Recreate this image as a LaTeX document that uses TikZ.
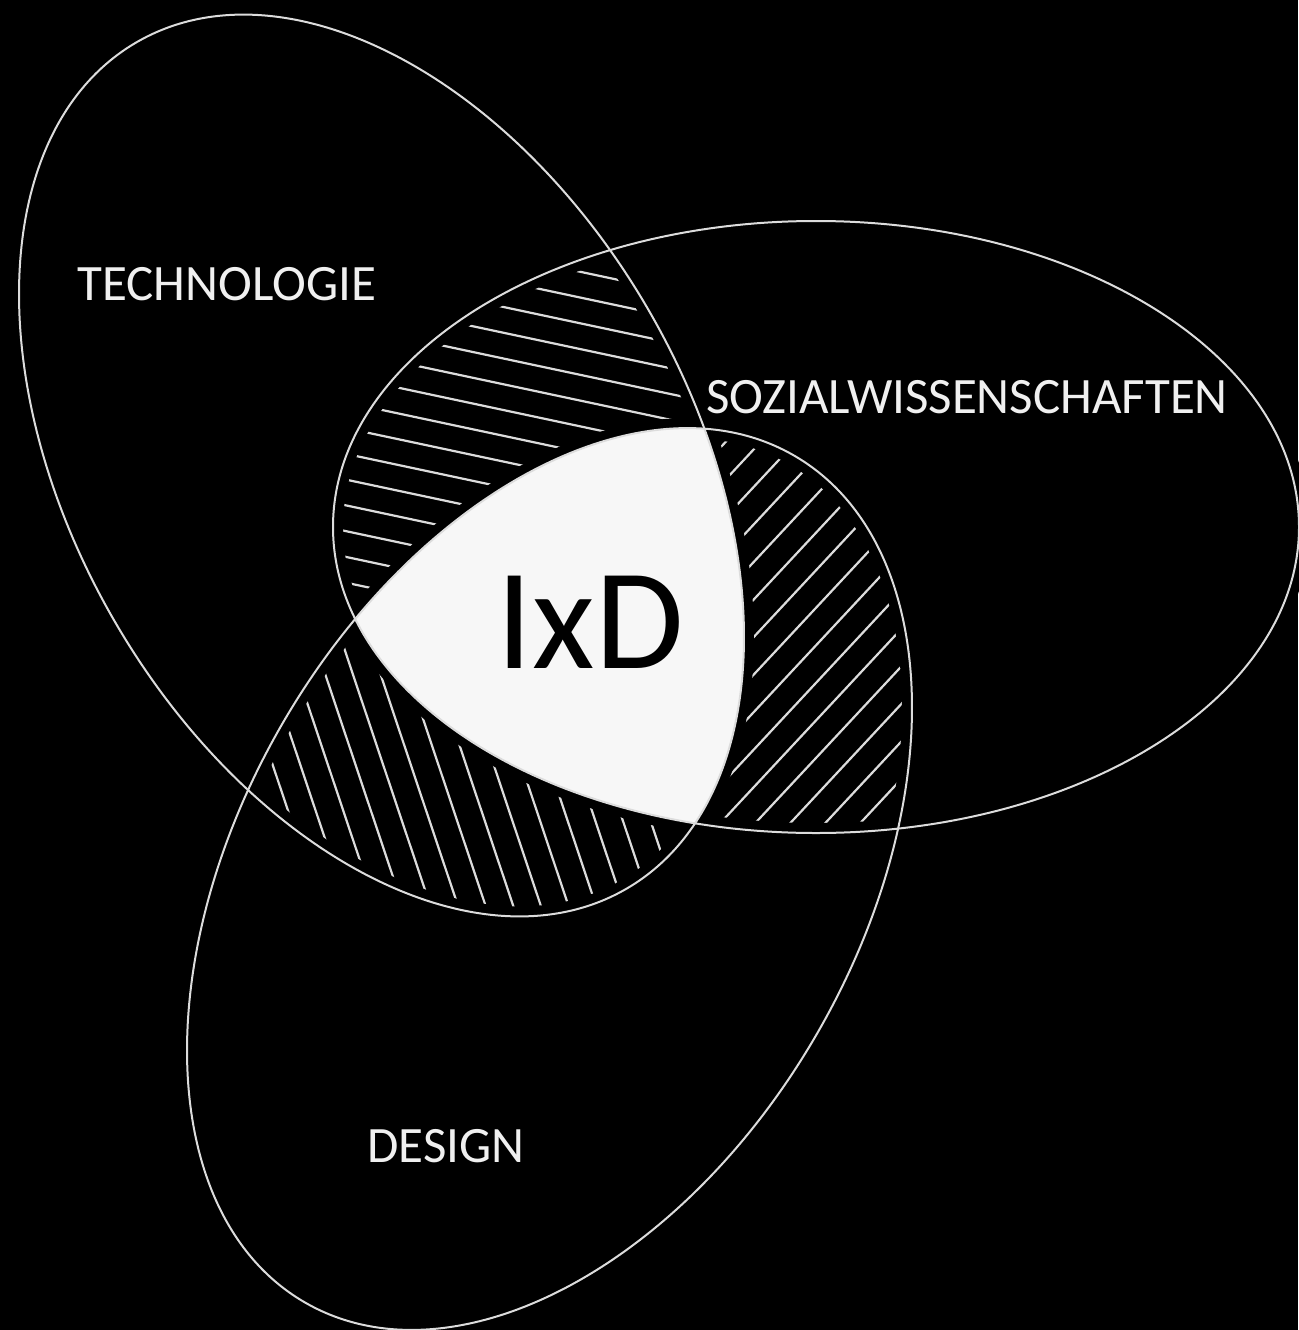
\documentclass[tikz,border=0pt]{standalone}
\usepackage{fontspec}
\setmainfont{Carlito}
\definecolor{linegray}{RGB}{220,220,220}
\definecolor{labelgray}{RGB}{240,240,240}
\definecolor{corewhite}{RGB}{247,247,247}
\begin{document}
\begin{tikzpicture}[x=1pt,y=-1pt,
  Tshape/.style={rotate around={-60:(381.5,465.5)}},
  Dshape/.style={rotate around={60:(549.5,879)}},
  outl/.style={draw=linegray, line width=2pt},
  gapline/.style={draw=black, line width=20pt},
  hatchline/.style={draw=linegray, line width=2.2pt, line cap=round},
  lbl/.style={text=labelgray, inner sep=0pt, anchor=base, font=\fontsize{51}{60}\selectfont}]
\useasboundingbox (0,0) rectangle (1298,1330);
\fill[black] (0,0) rectangle (1298,1330);
% T and S overlap hatching
\begin{scope}
  \clip[Tshape] (381.5,465.5) ellipse [x radius=489pt, y radius=309pt];
  \clip (816,527) ellipse [x radius=483pt, y radius=306pt];
  \foreach \k in {0,...,25}{
    \pgfmathsetmacro{\c}{19.2+25.2*\k}
    \draw[hatchline, shift={(102:\c)}] (12:-1600) -- (12:1600);
  }
\end{scope}
% S and D overlap hatching
\begin{scope}
  \clip[Dshape] (549.5,879) ellipse [x radius=489pt, y radius=309pt];
  \clip (816,527) ellipse [x radius=483pt, y radius=306pt];
  \foreach \k in {25,...,50}{
    \pgfmathsetmacro{\c}{12.9+25.6*\k}
    \draw[hatchline, shift={(43:\c)}] (-47:-1600) -- (-47:1600);
  }
\end{scope}
% T and D overlap hatching
\begin{scope}
  \clip[Tshape] (381.5,465.5) ellipse [x radius=489pt, y radius=309pt];
  \clip[Dshape] (549.5,879) ellipse [x radius=489pt, y radius=309pt];
  \foreach \k in {-4,...,18}{
    \pgfmathsetmacro{\c}{15.9+26.2*\k}
    \draw[hatchline, shift={(-18.5:\c)}] (71.5:-1600) -- (71.5:1600);
  }
\end{scope}
% gaps between hatching and outlines
\path[gapline, Tshape] (381.5,465.5) ellipse [x radius=489pt, y radius=309pt];
\path[gapline] (816,527) ellipse [x radius=483pt, y radius=306pt];
\path[gapline, Dshape] (549.5,879) ellipse [x radius=489pt, y radius=309pt];
% core region
\begin{scope}
  \clip[Tshape] (381.5,465.5) ellipse [x radius=489pt, y radius=309pt];
  \clip (816,527) ellipse [x radius=483pt, y radius=306pt];
  \fill[corewhite, Dshape] (549.5,879) ellipse [x radius=489pt, y radius=309pt];
\end{scope}
% outlines
\path[outl, Tshape] (381.5,465.5) ellipse [x radius=489pt, y radius=309pt];
\path[outl] (816,527) ellipse [x radius=483pt, y radius=306pt];
\path[outl, Dshape] (549.5,879) ellipse [x radius=489pt, y radius=309pt];
% labels
\node[lbl] (tech) at (227,300) {TECHNOLOGIE};
\node[lbl] (soz) at (967,413) {SOZIALWISSENSCHAFTEN};
\node[lbl] (des) at (446,1162) {DESIGN};
\node[inner sep=0pt, anchor=base, text=black, font=\fontsize{144}{160}\selectfont] (ixd) at (590,668) {IxD};
\end{tikzpicture}
\end{document}
